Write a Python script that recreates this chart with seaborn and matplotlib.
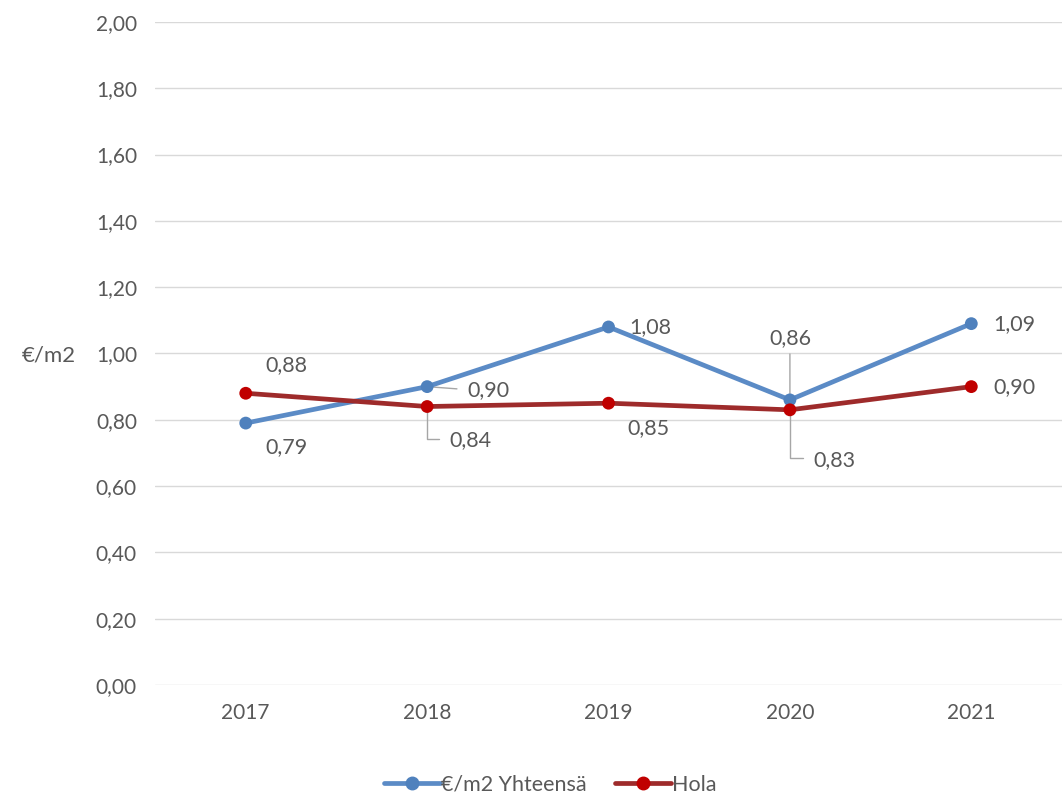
import matplotlib
matplotlib.use("Agg")
import matplotlib.pyplot as plt
from matplotlib.lines import Line2D
import seaborn as sns
import pandas as pd

years = ["2017", "2018", "2019", "2020", "2021"]
yhteensa = [0.79, 0.90, 1.08, 0.86, 1.09]
hola = [0.88, 0.84, 0.85, 0.83, 0.90]
series_names = ["€/m2 Yhteensä", "Hola"]
y_ticks = [0.0, 0.2, 0.4, 0.6, 0.8, 1.0, 1.2, 1.4, 1.6, 1.8, 2.0]

BLUE_LINE = "#5B8BC6"
BLUE_MARK = "#4F81BD"
RED_LINE = "#9E2B2B"
RED_MARK = "#C00000"
TXT = "#595959"
FS = 15

sns.set_theme(style="white")
plt.rcParams["font.family"] = ["Lato", "DejaVu Sans"]

fig = plt.figure(figsize=(10.62, 7.99), dpi=100)
ax = fig.add_axes([0.146, 0.1427, 0.854, 0.8298])

df = pd.DataFrame({
    "x": list(range(len(years))) * 2,
    "v": yhteensa + hola,
    "s": [series_names[0]] * len(years) + [series_names[1]] * len(years),
})

sns.lineplot(data=df[df.s == series_names[0]], x="x", y="v", color=BLUE_LINE,
             lw=3.4, ax=ax, zorder=3, legend=False)
sns.scatterplot(data=df[df.s == series_names[0]], x="x", y="v", color=BLUE_MARK,
                s=85, edgecolor="none", ax=ax, zorder=4, legend=False)
sns.lineplot(data=df[df.s == series_names[1]], x="x", y="v", color=RED_LINE,
             lw=3.4, ax=ax, zorder=5, legend=False)
sns.scatterplot(data=df[df.s == series_names[1]], x="x", y="v", color=RED_MARK,
                s=85, edgecolor="none", ax=ax, zorder=6, legend=False)

ax.set_xlim(-0.5, len(years) - 0.5)
ax.set_ylim(0, 2.0)
ax.set_yticks(y_ticks)
ax.set_yticklabels([f"{t:.2f}".replace(".", ",") for t in y_ticks])
ax.set_xticks(range(len(years)))
ax.set_xticklabels(years)
ax.tick_params(axis="both", length=0, labelsize=FS, colors=TXT)
ax.tick_params(axis="y", pad=13)
ax.tick_params(axis="x", pad=13)
ax.set_xlabel("")
ax.set_ylabel("")
ax.grid(axis="y", color="#D9D9D9", lw=1)
for sp in ax.spines.values():
    sp.set_visible(False)
ax.set_axisbelow(True)

fig.text(22 / 1062, 1 - 355 / 799, "€/m2", fontsize=FS + 1, color=TXT, va="center", ha="left")

PX = 0.72  # pixels -> points
# (dx_px, dy_px, ha, leader)
blue_pos = [(20, -24, "left", None), (40, -3, "left", "h"), (21, 0, "left", None),
            (0, 62, "center", "v"), (22, 0, "left", None)]
red_pos = [(20, 28, "left", None), (22, -34, "left", "elbow"), (19, -25, "left", None),
           (23, -50, "left", "elbow"), (22, 0, "left", None)]

def label(vals, pos):
    for i, (v, (dx, dy, ha, lead)) in enumerate(zip(vals, pos)):
        txt = f"{v:.2f}".replace(".", ",")
        kw = dict(xy=(i, v), xytext=(dx * PX, dy * PX), textcoords="offset points",
                  ha=ha, va="center", fontsize=FS + 0.5, color=TXT, zorder=2)
        if lead == "h":
            kw["arrowprops"] = dict(arrowstyle="-", color="#A6A6A6", lw=1,
                                    shrinkA=5, shrinkB=0, relpos=(0, 0.5))
        elif lead == "v":
            kw["arrowprops"] = dict(arrowstyle="-", color="#A6A6A6", lw=1,
                                    shrinkA=2, shrinkB=0, relpos=(0.5, 0))
        elif lead == "elbow":
            kw["arrowprops"] = dict(arrowstyle="-", color="#A6A6A6", lw=1,
                                    shrinkA=5, shrinkB=0, relpos=(0, 0.6),
                                    connectionstyle="angle,angleA=0,angleB=90,rad=0")
        ax.annotate(txt, **kw)

label(yhteensa, blue_pos)
label(hola, red_pos)

handles = [
    Line2D([], [], color=BLUE_LINE, lw=3.4, marker="o", markersize=9,
           markerfacecolor=BLUE_MARK, markeredgecolor=BLUE_MARK),
    Line2D([], [], color=RED_LINE, lw=3.4, marker="o", markersize=9,
           markerfacecolor=RED_MARK, markeredgecolor=RED_MARK),
]
leg = fig.legend(handles, series_names, loc="center", bbox_to_anchor=(0.518, 0.018),
                 ncol=2, frameon=False, fontsize=15.5, handlelength=2.6,
                 handletextpad=0.05, columnspacing=1.3, labelcolor=TXT)

fig.savefig("out.png", dpi=100)
